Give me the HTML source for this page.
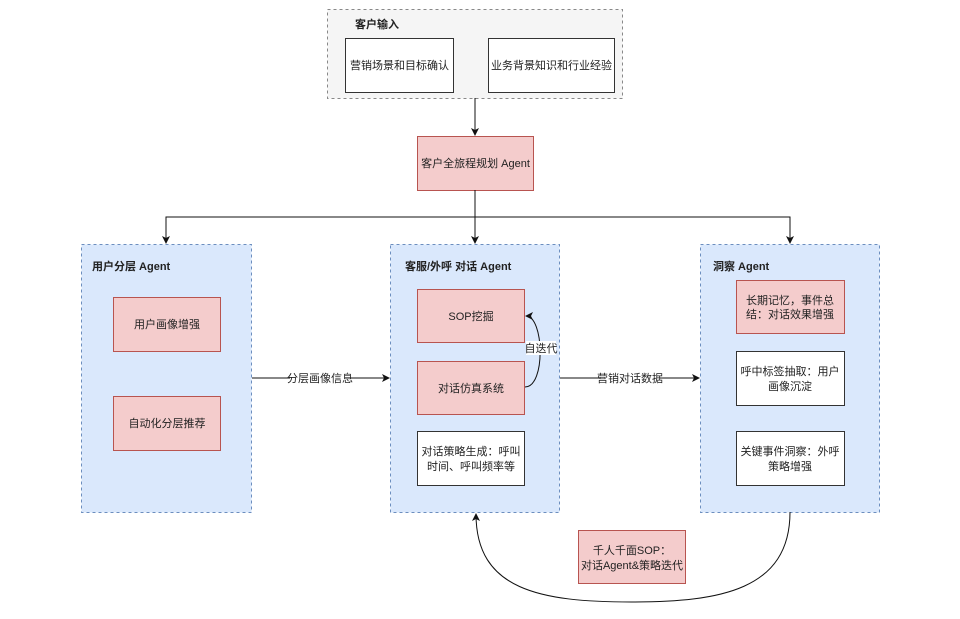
<!DOCTYPE html>
<html><head><meta charset="utf-8"><style>
body{margin:0;background:#fff}
svg text{font-family:"Liberation Sans","Noto Sans CJK SC",sans-serif;font-size:11px;fill:#222}
</style></head><body>
<svg width="960" height="614" viewBox="0 0 960 614" xmlns="http://www.w3.org/2000/svg">
<defs><marker id="a" markerWidth="8" markerHeight="8" refX="7" refY="4" orient="auto" markerUnits="userSpaceOnUse"><path d="M0,0 L8,4 L0,8 L2,4 Z" fill="#111"/></marker></defs>
<!-- top group -->
<rect x="327.5" y="9.5" width="295" height="89" fill="#f5f5f5" stroke="#888" stroke-dasharray="3,3"/>
<text x="355" y="28" font-weight="bold">客户输入</text>
<rect x="345.5" y="38.5" width="108" height="54" fill="#fff" stroke="#333"/>
<text x="399.5" y="69" text-anchor="middle">营销场景和目标确认</text>
<rect x="488.5" y="38.5" width="126" height="54" fill="#fff" stroke="#333"/>
<text x="551.5" y="69" text-anchor="middle">业务背景知识和行业经验</text>
<line x1="475" y1="98" x2="475" y2="135" stroke="#111" marker-end="url(#a)"/>
<rect x="417.5" y="136.5" width="116" height="54" fill="#f4cccc" stroke="#b85450"/>
<text x="475.5" y="167" text-anchor="middle">客户全旅程规划 Agent</text>
<!-- split -->
<polyline points="475,190 475,217" fill="none" stroke="#111"/>
<polyline points="166,243 166,217 790,217 790,243" fill="none" stroke="#111"/>
<line x1="166" y1="230" x2="166" y2="243" stroke="#111" marker-end="url(#a)"/>
<line x1="790" y1="230" x2="790" y2="243" stroke="#111" marker-end="url(#a)"/>
<line x1="475" y1="217" x2="475" y2="243" stroke="#111" marker-end="url(#a)"/>
<!-- panels -->
<rect x="81.5" y="244.5" width="170" height="268" fill="#dae8fc" stroke="#6c8ebf" stroke-dasharray="3,3"/>
<rect x="390.5" y="244.5" width="169" height="268" fill="#dae8fc" stroke="#6c8ebf" stroke-dasharray="3,3"/>
<rect x="700.5" y="244.5" width="179" height="268" fill="#dae8fc" stroke="#6c8ebf" stroke-dasharray="3,3"/>
<text x="92" y="270" font-weight="bold">用户分层 Agent</text>
<text x="405" y="270" font-weight="bold">客服/外呼 对话 Agent</text>
<text x="713" y="270" font-weight="bold">洞察 Agent</text>
<!-- left -->
<rect x="113.5" y="297.5" width="107" height="54" fill="#f4cccc" stroke="#b85450"/>
<text x="167" y="328" text-anchor="middle">用户画像增强</text>
<rect x="113.5" y="396.5" width="107" height="54" fill="#f4cccc" stroke="#b85450"/>
<text x="167" y="427" text-anchor="middle">自动化分层推荐</text>
<!-- middle -->
<rect x="417.5" y="289.5" width="107" height="53" fill="#f4cccc" stroke="#b85450"/>
<text x="471" y="320" text-anchor="middle">SOP挖掘</text>
<rect x="417.5" y="361.5" width="107" height="53" fill="#f4cccc" stroke="#b85450"/>
<text x="471" y="392" text-anchor="middle">对话仿真系统</text>
<rect x="417.5" y="431.5" width="107" height="54" fill="#fff" stroke="#333"/>
<text x="471" y="455" text-anchor="middle">对话策略生成：呼叫</text>
<text x="471" y="470" text-anchor="middle">时间、呼叫频率等</text>
<path d="M525,387 C546,387 544,316 526,316" fill="none" stroke="#111" marker-end="url(#a)"/>
<rect x="526" y="341" width="30" height="14" fill="#fff"/>
<text x="541" y="352" text-anchor="middle">自迭代</text>
<!-- right -->
<rect x="736.5" y="280.5" width="108" height="53" fill="#f4cccc" stroke="#b85450"/>
<text x="790" y="304" text-anchor="middle">长期记忆，事件总</text>
<text x="790" y="318" text-anchor="middle">结：对话效果增强</text>
<rect x="736.5" y="351.5" width="108" height="54" fill="#fff" stroke="#333"/>
<text x="790" y="375" text-anchor="middle">呼中标签抽取：用户</text>
<text x="790" y="390" text-anchor="middle">画像沉淀</text>
<rect x="736.5" y="431.5" width="108" height="54" fill="#fff" stroke="#333"/>
<text x="790" y="455" text-anchor="middle">关键事件洞察：外呼</text>
<text x="790" y="470" text-anchor="middle">策略增强</text>
<!-- connectors -->
<line x1="252" y1="378" x2="389" y2="378" stroke="#111" marker-end="url(#a)"/>
<rect x="290" y="371" width="60" height="14" fill="#fff"/>
<text x="320" y="382" text-anchor="middle">分层画像信息</text>
<line x1="560" y1="378" x2="699" y2="378" stroke="#111" marker-end="url(#a)"/>
<rect x="600" y="371" width="60" height="14" fill="#fff"/>
<text x="630" y="382" text-anchor="middle">营销对话数据</text>
<path d="M790,512 C790,590 720,602 632,602 C540,602 476,590 476,514" fill="none" stroke="#111" marker-end="url(#a)"/>
<rect x="578.5" y="530.5" width="107" height="53" fill="#f4cccc" stroke="#b85450"/>
<text x="632" y="554" text-anchor="middle">千人千面SOP：</text>
<text x="632" y="569" text-anchor="middle">对话Agent&amp;策略迭代</text>
</svg>
</body></html>
